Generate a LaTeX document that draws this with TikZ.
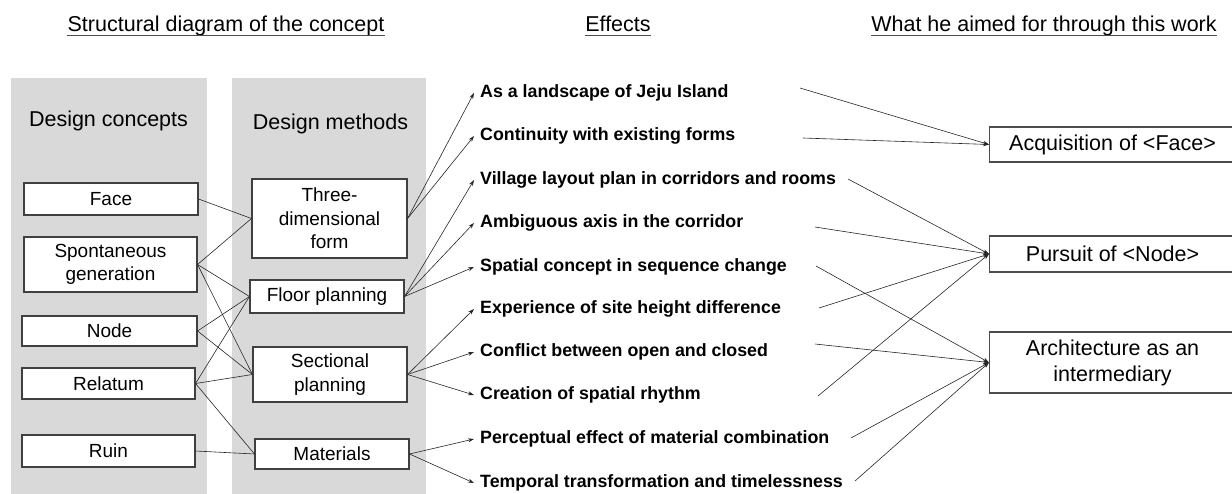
\documentclass[tikz,border=0pt]{standalone}
\usepackage{fontspec}
\setmainfont{Liberation Sans}
\usetikzlibrary{arrows.meta}
\begin{document}
\begin{tikzpicture}[x=1pt,y=-1pt,
    column/.style={fill=black!15, draw=none},
    heading/.style={font=\fontsize{21.5}{24}\selectfont, inner sep=0pt, anchor=base},
    colhead/.style={font=\fontsize{21.5}{24}\selectfont},
    concept/.style={draw=black!75, line width=1.1pt, fill=white, align=center,
        inner sep=0pt, font=\fontsize{19}{23.5}\selectfont},
    goal/.style={draw=black!70, line width=1.1pt, fill=white, align=center,
        inner sep=0pt, anchor=west, minimum width=246,
        font=\fontsize{21.5}{26}\selectfont},
    effect/.style={font=\bfseries\fontsize{17.8}{20}\selectfont,
        inner xsep=6pt, inner ysep=2pt, anchor=west},
    link/.style={line width=0.6pt, black!85},
    leads/.style={line width=0.6pt, black!85, -{Stealth[length=6pt,width=4pt]}}]
\useasboundingbox (0,0) rectangle (1232,494);

% headings
\node [heading] (hconcept) at (226,32) {Structural diagram of the concept};
\node [heading] (heffect) at (618,32) {Effects};
\node [heading] (haim) at (1044,32) {What he aimed for through this work};
\draw [line width=0.8pt, black!70] ([yshift=-3.5pt]hconcept.base west) -- ([yshift=-3.5pt]hconcept.base east);
\draw [line width=0.8pt, black!70] ([yshift=-3.5pt]heffect.base west) -- ([yshift=-3.5pt]heffect.base east);
\draw [line width=0.8pt, black!70] ([yshift=-3.5pt]haim.base west) -- ([yshift=-3.5pt]haim.base east);

% grey columns
\fill [column] (11,78) rectangle (207,494);
\fill [column] (232,78) rectangle (426,494);
\node [colhead] (dconcepts) at (108.5,121) {Design concepts};
\node [colhead] (dmethods) at (330.5,124) {Design methods};

% design concepts
\node [concept, minimum width=174, minimum height=32] (face) at (111,199) {Face};
\node [concept, minimum width=173, minimum height=55] (spont) at (110.5,264.5) {Spontaneous\\generation};
\node [concept, minimum width=175, minimum height=30] (node) at (109.5,331) {Node};
\node [concept, minimum width=173, minimum height=31] (relatum) at (108.5,383.5) {Relatum};
\node [concept, minimum width=173, minimum height=32] (ruin) at (108.5,451) {Ruin};

% design methods
\node [concept, minimum width=155, minimum height=79] (threed) at (329.5,218.5) {Three-\\dimensional\\form};
\node [concept, minimum width=154, minimum height=33] (floor) at (327,296.5) {Floor planning};
\node [concept, minimum width=154, minimum height=55] (section) at (330,374.5) {Sectional\\planning};
\node [concept, minimum width=154, minimum height=30] (material) at (332,454) {Materials};

\draw [link] (face.east) -- (threed.west);
\draw [link] (spont.east) -- (threed.west);
\draw [link] (spont.east) -- (floor.west);
\draw [link] (spont.east) -- (section.west);
\draw [link] (node.east) -- (floor.west);
\draw [link] (node.east) -- (section.west);
\draw [link] (relatum.east) -- (floor.west);
\draw [link] (relatum.east) -- (section.west);
\draw [link] (relatum.east) -- (material.west);
\draw [link] (ruin.east) -- (material.west);

% effects
\node [effect] (e1) at (474,93) {As a landscape of Jeju Island};
\node [effect] (e2) at (474,136) {Continuity with existing forms};
\node [effect] (e3) at (474,180) {Village layout plan in corridors and rooms};
\node [effect] (e4) at (474,223) {Ambiguous axis in the corridor};
\node [effect] (e5) at (474,267) {Spatial concept in sequence change};
\node [effect] (e6) at (474,309) {Experience of site height difference};
\node [effect] (e7) at (474,352) {Conflict between open and closed};
\node [effect] (e8) at (474,395) {Creation of spatial rhythm};
\node [effect] (e9) at (474,439) {Perceptual effect of material combination};
\node [effect] (e10) at (474,483) {Temporal transformation and timelessness};

\draw [leads] (threed.east) -- (e1.west);
\draw [leads] (threed.east) -- (e2.west);
\draw [leads] (floor.east) -- (e3.west);
\draw [leads] (floor.east) -- (e4.west);
\draw [leads] (floor.east) -- (e5.west);
\draw [leads] (section.east) -- (e6.west);
\draw [leads] (section.east) -- (e7.west);
\draw [leads] (section.east) -- (e8.west);
\draw [leads] (material.east) -- (e9.west);
\draw [leads] (material.east) -- (e10.west);

% aims
\node [goal, minimum height=35] (gface) at (989,144.5) {Acquisition of <Face>};
\node [goal, minimum height=36] (gnode) at (989,254) {Pursuit of <Node>};
\node [goal, minimum height=61] (gmedium) at (989,362.5) {Architecture as an\\intermediary};

\coordinate (s1) at (800,88);
\coordinate (s2) at (803,138);
\coordinate (s3) at (848,179);
\coordinate (s4) at (815,227);
\coordinate (s5) at (816,266);
\coordinate (s6) at (819,308);
\coordinate (s7) at (815,344);
\coordinate (s8) at (818,396);
\coordinate (s9) at (851,438);
\coordinate (s10) at (855,481);

\draw [leads] (s1) -- (gface.west);
\draw [leads] (s2) -- (gface.west);
\draw [leads] (s3) -- (gnode.west);
\draw [leads] (s4) -- (gnode.west);
\draw [leads] (s6) -- (gnode.west);
\draw [leads] (s8) -- (gnode.west);
\draw [leads] (s5) -- (gmedium.west);
\draw [leads] (s7) -- (gmedium.west);
\draw [leads] (s9) -- (gmedium.west);
\draw [leads] (s10) -- (gmedium.west);
\end{tikzpicture}
\end{document}
